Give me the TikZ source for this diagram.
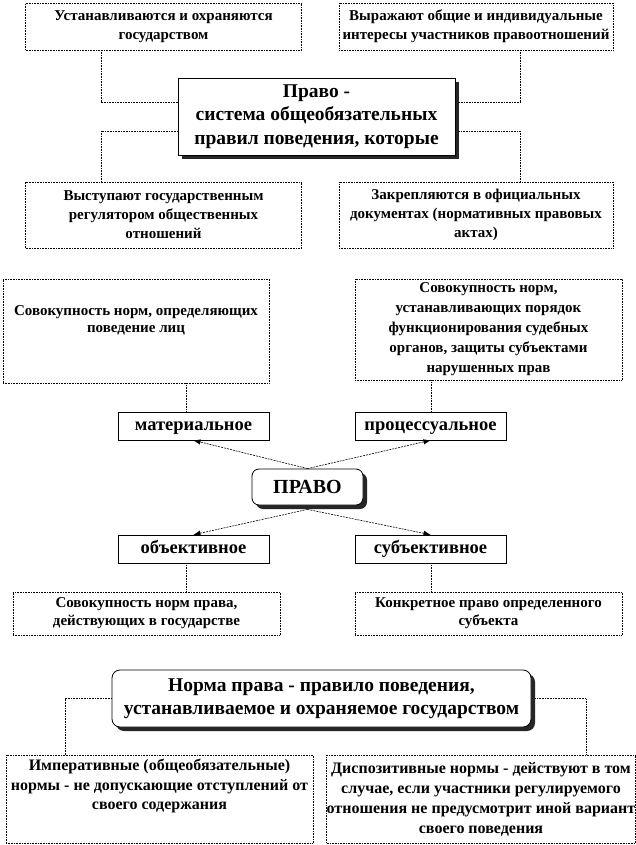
\documentclass[tikz,border=0pt]{standalone}
\usepackage{fontspec}
\setmainfont{Liberation Serif}
\usetikzlibrary{arrows.meta,shadows}
\begin{document}
\begin{tikzpicture}[x=1pt,y=-1pt,
  box/.style={draw, densely dotted, line width=0.6pt, fill=white, inner sep=0pt, align=center,
    font=\bfseries\fontsize{15}{19}\selectfont},
  txt/.style={inner sep=0pt, align=center, font=\bfseries\fontsize{15}{17}\selectfont},
  lab/.style={draw, line width=0.6pt, fill=white, inner sep=0pt, align=center,
    text height=12.5pt, text depth=4pt,
    font=\bfseries\fontsize{18.5}{22}\selectfont},
  shad/.style={drop shadow={shadow xshift=4pt, shadow yshift=-4pt, fill=black, opacity=0.85}},
  title/.style={draw, line width=0.8pt, fill=white, inner sep=0pt, align=center, shad,
    font=\bfseries\fontsize{19.5}{23.5}\selectfont},
  conn/.style={draw, densely dotted, line width=0.6pt},
  arr/.style={draw, dash pattern=on 2pt off 1pt, line width=0.6pt,
    -{Latex[length=7pt,width=5pt,fill=black,line width=0.01pt]}}
]
\useasboundingbox (0,0) rectangle (635,845);

% ---------- top section ----------
\node[box, minimum width=276pt, minimum height=47pt] (A) at (163.5,26.5)
  {Устанавливаются и охраняются\\государством};
\node[box, minimum width=274pt, minimum height=47pt] (B) at (476,26.5)
  {Выражают общие и индивидуальные\\интересы участников правоотношений};
\node[title, minimum width=277pt, minimum height=77pt] (P) at (316.5,116.5)
  {Право -\\система общеобязательных\\правил поведения, которые};
\node[box, minimum width=276pt, minimum height=66pt] (C) at (163.5,215)
  {Выступают государственным\\регулятором общественных\\отношений};
\node[box, minimum width=274pt, minimum height=66pt] (D) at (476,215)
  {Закрепляются в официальных\\документах (нормативных правовых\\актах)};

\coordinate (xl) at (101,0);
\coordinate (xr) at (520,0);
\coordinate (yu) at (0,102);
\coordinate (yd) at (0,131);
\coordinate (Pe) at ([xshift=4pt]P.east);
\draw[conn] (A.south -| xl) |- (P.west |- yu);
\draw[conn] (B.south -| xr) |- (Pe |- yu);
\draw[conn] (P.west |- yd) -| (C.north -| xl);
\draw[conn] (Pe |- yd) -| (D.north -| xr);

% ---------- middle section ----------
\node[box, minimum width=266pt, minimum height=104pt] (E) at (136,331) {};
\node[txt] (Et) at (136,320) {Совокупность норм, определяющих\\поведение лиц};
\node[box, minimum width=267pt, minimum height=101pt, font=\bfseries\fontsize{15}{20}\selectfont] (F) at (488.5,329.5)
  {Совокупность норм,\\устанавливающих порядок\\функционирования судебных\\органов, защиты субъектами\\нарушенных прав};
\node[lab, minimum width=151pt, minimum height=28pt] (M) at (193.5,426) {материальное};
\node[lab, minimum width=151pt, minimum height=28pt] (Q) at (430.5,426) {процессуальное};
\node[title, rounded corners=7pt, minimum width=111pt, minimum height=36pt,
  font=\bfseries\fontsize{20}{24}\selectfont] (R) at (307.5,487) {ПРАВО};
\node[lab, minimum width=151pt, minimum height=28pt] (O) at (193.5,549) {объективное};
\node[lab, minimum width=151pt, minimum height=28pt] (S) at (430.5,549) {субъективное};
\node[box, minimum width=267pt, minimum height=43pt, font=\bfseries\fontsize{15}{18}\selectfont] (G) at (146.5,613.5)
  {Совокупность норм права,\\действующих в государстве};
\node[box, minimum width=267pt, minimum height=43pt, font=\bfseries\fontsize{15}{18}\selectfont] (H) at (488.5,613.5)
  {Конкретное право определенного\\субъекта};

\coordinate (xm) at (186,0);
\coordinate (xq) at (431,0);
\coordinate (Rs) at ([yshift=-4pt]R.south);
\draw[conn] (E.south -| xm) -- (M.north -| xm);
\draw[conn] (F.south -| xq) -- (Q.north -| xq);
\draw[arr] (R.north) -- (M.south);
\draw[arr] (R.north) -- (Q.south);
\draw[arr] (Rs) -- (O.north);
\draw[arr] (Rs) -- (S.north);
\draw[conn] (O.south -| xm) -- (G.north -| xm);
\draw[conn] (S.south -| xq) -- (H.north -| xq);

% ---------- bottom section ----------
\node[title, rounded corners=8pt, minimum width=419pt, minimum height=57pt] (N) at (321.5,698.5)
  {Норма права - правило поведения,\\устанавливаемое и охраняемое государством};
\node[box, minimum width=307pt, minimum height=88pt] (I) at (159.5,799) {};
\node[txt, font=\bfseries\fontsize{16}{19.5}\selectfont] (It) at (159.5,786)
  {Императивные (общеобязательные)\\нормы - не допускающие отступлений от\\своего содержания};
\node[box, minimum width=300pt, minimum height=88pt, font=\bfseries\fontsize{16}{20}\selectfont] (J) at (481,799)
  {Диспозитивные нормы - действуют в том\\случае, если участники регулируемого\\отношения не предусмотрит иной вариант\\своего поведения};

\coordinate (xa) at (65,0);
\coordinate (xb) at (586,0);
\coordinate (Ne) at ([xshift=4pt]N.east);
\draw[conn] (N.west) -| (I.north -| xa);
\draw[conn] (Ne) -| (J.north -| xb);
\end{tikzpicture}
\end{document}
